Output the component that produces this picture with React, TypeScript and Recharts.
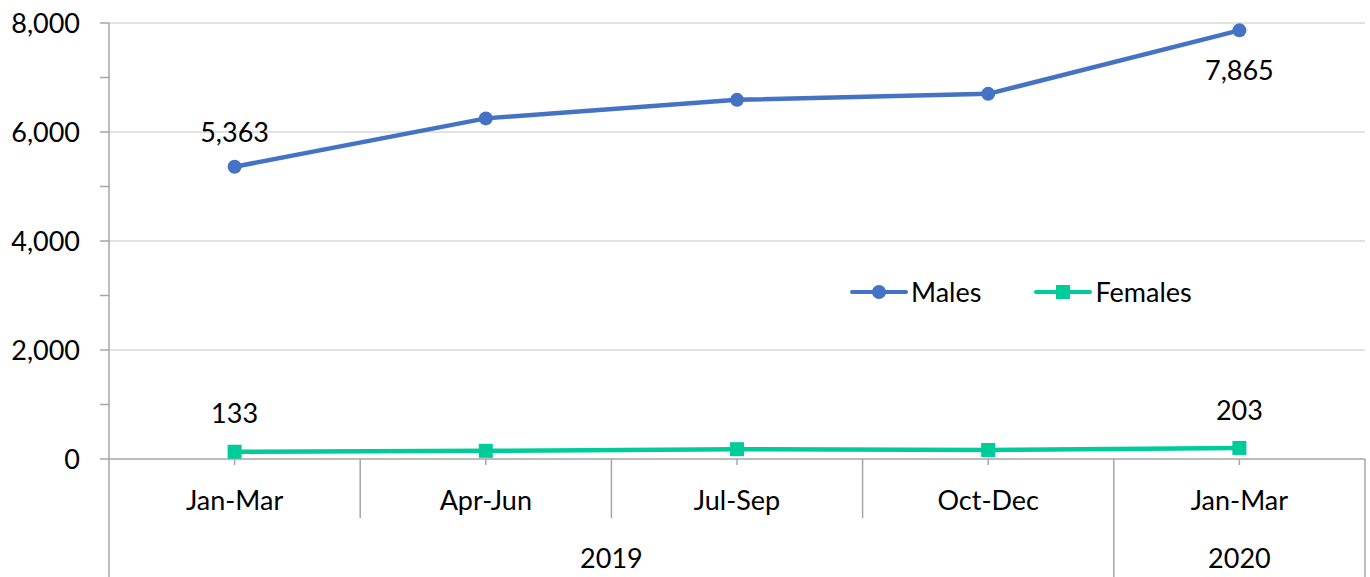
import React from 'react';
import { LineChart, Line, XAxis, YAxis, CartesianGrid, LabelList } from 'recharts';

const quarters = ['Jan-Mar', 'Apr-Jun', 'Jul-Sep', 'Oct-Dec', 'Jan-Mar'];
const years = ['2019', '2019', '2019', '2019', '2020'];
const males = [5363, 6250, 6590, 6700, 7865];
const females = [133, 150, 180, 165, 203];
const yTicks = [0, 1000, 2000, 3000, 4000, 5000, 6000, 7000, 8000];
const gridValues = [2000, 4000, 6000, 8000];

const data = quarters.map((q, i) => ({ idx: i, q, year: years[i], Males: males[i], Females: females[i] }));

const W = 1370;
const H = 577;
const M_TOP = 23;
const M_RIGHT = 5;
const Y_W = 109;
const X_H = 118;
const PLOT_W = W - M_RIGHT - Y_W;
const AXIS_Y = H - X_H;
const FONT = 'Lato, "Gill Sans", sans-serif';
const FS = 27;
const GRAY = '#a6a6a6';
const BLUE = '#4472C4';
const GREEN = '#00CC99';

function XTick(props: any) {
  const { x, index } = props;
  const n = data.length;
  const bw = PLOT_W / n;
  const yearStart = index === 0 || years[index] !== years[index - 1];
  let span = 0;
  if (yearStart) {
    let j = index;
    while (j < n && years[j] === years[index]) { span++; j++; }
  }
  return (
    <g>
      <text x={x} y={AXIS_Y + 51} textAnchor="middle" fill="#000" fontSize={FS} fontFamily={FONT}>{quarters[index]}</text>
      <line x1={x - bw / 2} x2={x - bw / 2} y1={AXIS_Y} y2={yearStart ? H : AXIS_Y + 59} stroke={GRAY} strokeWidth={1.5} />
      {index === n - 1 && (
        <line x1={x + bw / 2} x2={x + bw / 2} y1={AXIS_Y} y2={H} stroke={GRAY} strokeWidth={1.5} />
      )}
      {yearStart && (
        <text x={x - bw / 2 + (span * bw) / 2} y={AXIS_Y + 109} textAnchor="middle" fill="#000" fontSize={FS} fontFamily={FONT}>{years[index]}</text>
      )}
    </g>
  );
}

function makeLabel(offsets: Record<number, number>) {
  return (props: any) => {
    const { x, y, value, index } = props;
    if (!(index in offsets)) return null;
    return (
      <text x={x} y={y + offsets[index]} textAnchor="middle" dominantBaseline="central" fill="#000" fontSize={FS} fontFamily={FONT}>
        {Number(value).toLocaleString('en-US')}
      </text>
    );
  };
}

function LegendBox() {
  return (
    <div style={{ position: 'absolute', left: 850, top: 276, display: 'flex', alignItems: 'center', fontFamily: FONT, fontSize: FS, color: '#000', lineHeight: '32px' }}>
      <svg width={58} height={16} style={{ marginRight: 3 }}>
        <line x1={2} x2={56} y1={8} y2={8} stroke={BLUE} strokeWidth={4} strokeLinecap="round" />
        <circle cx={29} cy={8} r={7} fill={BLUE} />
      </svg>
      <span style={{ marginRight: 53 }}>Males</span>
      <svg width={58} height={16} style={{ marginRight: 3 }}>
        <line x1={2} x2={56} y1={8} y2={8} stroke={GREEN} strokeWidth={4} strokeLinecap="round" />
        <rect x={22} y={1} width={14} height={14} fill={GREEN} />
      </svg>
      <span>Females</span>
    </div>
  );
}

export default function App() {
  return (
    <div style={{ position: 'absolute', left: 0, top: 0, width: W, height: H, background: '#fff' }}>
      <LineChart width={W} height={H} data={data} margin={{ top: M_TOP, right: M_RIGHT, left: 0, bottom: 0 }}>
        <CartesianGrid vertical={false} horizontalValues={gridValues} stroke="#d9d9d9" strokeWidth={1.5} />
        <YAxis
          width={Y_W}
          domain={[0, 8000]}
          ticks={yTicks}
          interval={0}
          tickFormatter={(v: number) => (v % 2000 === 0 ? v.toLocaleString('en-US') : '')}
          tick={{ fill: '#000', fontSize: FS, fontFamily: FONT }}
          tickLine={{ stroke: GRAY, strokeWidth: 1.5 }}
          axisLine={{ stroke: GRAY, strokeWidth: 1.5 }}
          tickSize={9}
          tickMargin={20}
        />
        <XAxis
          dataKey="idx"
          type="category"
          scale="band"
          height={X_H}
          interval={0}
          tick={<XTick />}
          tickLine={{ stroke: GRAY, strokeWidth: 1.5 }}
          axisLine={{ stroke: GRAY, strokeWidth: 1.5 }}
          tickSize={6}
          tickMargin={0}
        />
        <Line
          type="linear"
          dataKey="Males"
          stroke={BLUE}
          strokeWidth={4.5}
          dot={{ r: 7, fill: BLUE, stroke: BLUE, strokeWidth: 0 }}
          isAnimationActive={false}
        >
          <LabelList dataKey="Males" content={makeLabel({ 0: -35, 4: 39 })} />
        </Line>
        <Line
          type="linear"
          dataKey="Females"
          stroke={GREEN}
          strokeWidth={4.5}
          dot={(p: any) => <rect key={p.index} x={p.cx - 7} y={p.cy - 7} width={14} height={14} fill={GREEN} />}
          isAnimationActive={false}
        >
          <LabelList dataKey="Females" content={makeLabel({ 0: -39, 4: -38 })} />
        </Line>
      </LineChart>
      <LegendBox />
    </div>
  );
}
